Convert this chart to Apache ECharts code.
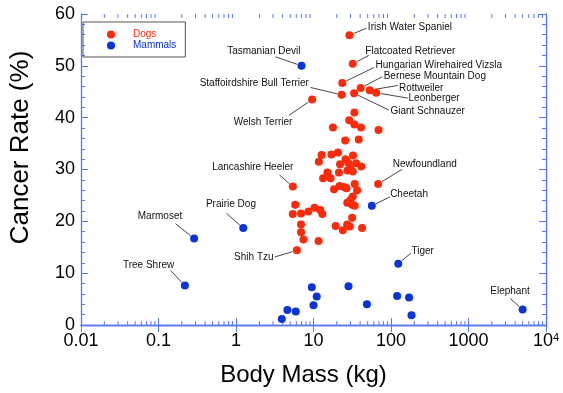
<!DOCTYPE html>
<html><head><meta charset="utf-8">
<script src="https://cdn.jsdelivr.net/npm/echarts@6/dist/echarts.min.js"></script>
<style>html,body{margin:0;padding:0;background:#fff}#c{width:563px;height:393px}</style>
</head><body><div id="c"></div>
<script>
// ---- data ----
const dogNames = ['Irish Water Spaniel','Flatcoated Retriever','Hungarian Wirehaired Vizsla','Staffoirdshire Bull Terrier','Giant Schnauzer','Bernese Mountain Dog','Rottweiler','Leonberger','Welsh Terrier','Lancashire Heeler','Newfoundland','Shih Tzu'];
const dogMass = [29.1,32.1,23.5,23.0,33.4,40.6,53,64.3,9.6,5.4,68.2,6.1,
  33.7,28.9,33.7,41.0,17.8,69.0,25.6,38.3,
  12.7,17.0,20.7,11.7,32.3,25.9,22.0,28.0,35.4,41.2,29.9,27.4,32.1,15.1,21.3,13.3,16.6,
  18.4,21.7,24.7,26.6,34.0,36.5,
  5.8,5.4,6.9,8.6,10.3,12.2,13.0,6.9,6.9,7.4,11.6,
  19.3,23.9,27.2,29.4,31.5,42.3,
  27.2,29.9,32.1,31.5,34.0];
const dogRate = [55.9,50.4,46.7,44.4,44.7,45.7,45.3,44.8,43.5,26.7,27.2,14.4,
  41.0,39.5,38.7,38.1,38.1,37.6,35.6,35.8,
  32.8,32.9,33.3,31.5,32.7,32.0,31.0,31.3,31.2,30.6,30.2,29.8,29.6,29.4,29.4,28.3,28.3,
  26.2,26.8,26.6,26.4,27.2,26.0,
  23.2,21.4,21.5,21.9,22.6,22.2,21.4,19.4,17.9,16.5,16.2,
  19.1,18.3,19.4,19.0,20.7,18.7,
  23.6,24.1,24.8,23.2,23.0];
const mammalNames = ['Tasmanian Devil','Marmoset','Prairie Dog','Tree Shrew','Cheetah','Tiger','Elephant'];
const mammalMass = [7.0,0.288,1.24,0.219,56.6,124,4990, 3.9,4.6,5.9,10.0,11.0,48.9,120,171,184,9.5,28.3];
const mammalRate = [50.0,16.7,18.7,7.6,23.0,11.8,3.0, 1.16,2.9,2.6,3.8,5.5,4.0,5.6,5.3,1.9,7.3,7.5];
const xTickValues = [0.01,0.1,1,10,100,1000,10000];
const yTickValues = [0,10,20,30,40,50,60];

// ---- styles ----
const RED = '#ff2a0a', BLUE = '#0a33dc', AXIS = '#5a78f0';
const FONT = 'Liberation Sans, Arial, Helvetica, sans-serif';
// label placement relative to point: t = text anchor offset, a = align, l = leader end offset
const labelPlace = {
  'Irish Water Spaniel': {t:[18.4,-7.8],a:'left',l:[17,-7]},
  'Flatcoated Retriever': {t:[12.6,-13],a:'left',l:[16,-8.3]},
  'Hungarian Wirehaired Vizsla': {t:[33.3,-17.2],a:'left',l:[31.7,-15.4]},
  'Bernese Mountain Dog': {t:[23,-11.5],a:'left',l:[21.3,-11.3]},
  'Rottweiler': {t:[29.3,-2],a:'left',l:[28.3,-4.7]},
  'Leonberger': {t:[32.4,5.8],a:'left',l:[31.7,5.3]},
  'Giant Schnauzer': {t:[36.3,18.4],a:'left',l:[34.7,16.7]},
  'Staffoirdshire Bull Terrier': {t:[-32.6,-11.4],a:'right',l:[-31,-7.4]},
  'Welsh Terrier': {t:[-19.7,22.4],a:'right',l:[-23,15.7]},
  'Tasmanian Devil': {t:[-1,-15],a:'right',l:[-26,-9]},
  'Lancashire Heeler': {t:[-40,-19],a:'center',l:[-13.3,-11.7]},
  'Newfoundland': {t:[14.7,-19.7],a:'left',l:[24,-14.7]},
  'Cheetah': {t:[18.3,-11.7],a:'left',l:[18.3,-9]},
  'Shih Tzu': {t:[-23.3,6.7],a:'right',l:[-22.3,6.7]},
  'Prairie Dog': {t:[-12.3,-23.7],a:'center',l:[-16.7,-14.7]},
  'Marmoset': {t:[-34.1,-22],a:'center',l:[-18.6,-14.7]},
  'Tree Shrew': {t:[-36.3,-20],a:'center',l:[-14.3,-15]},
  'Tiger': {t:[13.3,-12.3],a:'left',l:[12.6,-10.7]},
  'Elephant': {t:[-12.6,-18.6],a:'center',l:[-12.3,-11]}
};

const dogData = dogMass.map((m,i)=>[m, dogRate[i]]);
const mammalData = mammalMass.map((m,i)=>[m, mammalRate[i]]);
const labeled = [];
dogNames.forEach((n,i)=>labeled.push({name:n, value:[dogMass[i], dogRate[i]]}));
mammalNames.forEach((n,i)=>labeled.push({name:n, value:[mammalMass[i], mammalRate[i]]}));

const xMinor = [];
for (let e=-2;e<4;e++) for (let k=2;k<10;k++) xMinor.push([k*Math.pow(10,e), 0]);

const chart = echarts.init(document.getElementById('c'), null, {renderer:'canvas'});
const axisLine = {show:true, lineStyle:{color:AXIS, width:1.3}};
const xBase = {type:'log', logBase:10, min:0.01, max:10000, axisLine, splitLine:{show:false},
  axisTick:{show:true, inside:true, length:7, lineStyle:{color:AXIS}}};
const yBase = {type:'value', min:0, max:60, interval:10, axisLine, splitLine:{show:false},
  axisTick:{show:true, inside:true, length:7, lineStyle:{color:AXIS}},
  minorTick:{show:true, splitNumber:5, length:4, lineStyle:{color:AXIS}}};

chart.setOption({
  animation:false,
  backgroundColor:'#fff',
  grid:{left:76, right:17, top:14, bottom:68, containLabel:false},
  legend:{orient:'vertical', left:83, top:22, borderColor:'#555', borderWidth:1, borderRadius:0,
    padding:[7,9,6,24], itemWidth:34, itemHeight:8, itemGap:0, icon:'circle',
    textStyle:{fontSize:10, lineHeight:11, fontFamily:FONT},
    data:[{name:'Dogs', textStyle:{color:RED}}, {name:'Mammals', textStyle:{color:BLUE}}]},
  xAxis:[
    Object.assign({}, xBase, {position:'bottom', name:'Body Mass (kg)', nameLocation:'middle', nameGap:38,
      nameTextStyle:{fontSize:24, color:'#000', fontFamily:FONT, padding:[0,20,0,0]},
      axisLabel:{show:true, margin:7, color:'#000', fontSize:18, fontFamily:FONT,
        formatter:v=> v>=9999 ? '{b|10}{s|4}' : String(+v.toPrecision(3)),
        rich:{b:{fontSize:18, fontFamily:FONT, color:'#000'}, s:{fontSize:11, fontFamily:FONT, color:'#000', verticalAlign:'top', padding:[0,0,8,0]}}}}),
    Object.assign({}, xBase, {position:'top', axisLabel:{show:false}})
  ],
  yAxis:[
    Object.assign({}, yBase, {position:'left', name:'Cancer Rate (%)', nameLocation:'middle', nameGap:47, nameRotate:90,
      nameTextStyle:{fontSize:26, color:'#000', fontFamily:FONT, padding:[0,0,0,44]},
      axisLabel:{show:true, margin:6, color:'#000', fontSize:18, fontFamily:FONT}}),
    Object.assign({}, yBase, {position:'right', axisLabel:{show:false}})
  ],
  series:[
    {type:'custom', name:'xminor', xAxisIndex:0, yAxisIndex:0, silent:true, clip:false, z:1,
      data:xMinor,
      renderItem:(params, api)=>{
        const b = api.coord([api.value(0), 0]);
        const t = api.coord([api.value(0), 60]);
        return {type:'group', children:[
          {type:'line', shape:{x1:b[0], y1:b[1], x2:b[0], y2:b[1]-4}, style:{stroke:AXIS, lineWidth:1}},
          {type:'line', shape:{x1:t[0], y1:t[1], x2:t[0], y2:t[1]+4}, style:{stroke:AXIS, lineWidth:1}}
        ]};
      }},
    {type:'custom', name:'leaders', xAxisIndex:0, yAxisIndex:0, silent:true, clip:false, z:2,
      data:labeled,
      renderItem:(params, api)=>{
        const item = labeled[params.dataIndex];
        const o = labelPlace[item.name];
        const p = api.coord([api.value(0), api.value(1)]);
        const ang = Math.atan2(o.l[1], o.l[0]);
        const r = 4.5;
        return {type:'group', children:[
          {type:'line', shape:{x1:p[0]+r*Math.cos(ang), y1:p[1]+r*Math.sin(ang), x2:p[0]+o.l[0], y2:p[1]+o.l[1]},
            style:{stroke:'#333', lineWidth:0.9}},
          {type:'text', x:p[0]+o.t[0], y:p[1]+o.t[1],
            style:{text:item.name, font:'10px '+FONT, fill:'#111', align:o.a, verticalAlign:'middle'}}
        ]};
      }},
    {type:'scatter', name:'Dogs', data:dogData, symbol:'circle', symbolSize:8, z:5,
      itemStyle:{color:RED, opacity:1}},
    {type:'scatter', name:'Mammals', data:mammalData, symbol:'circle', symbolSize:8, z:5,
      itemStyle:{color:BLUE, opacity:1}}
  ]
});
</script></body></html>
